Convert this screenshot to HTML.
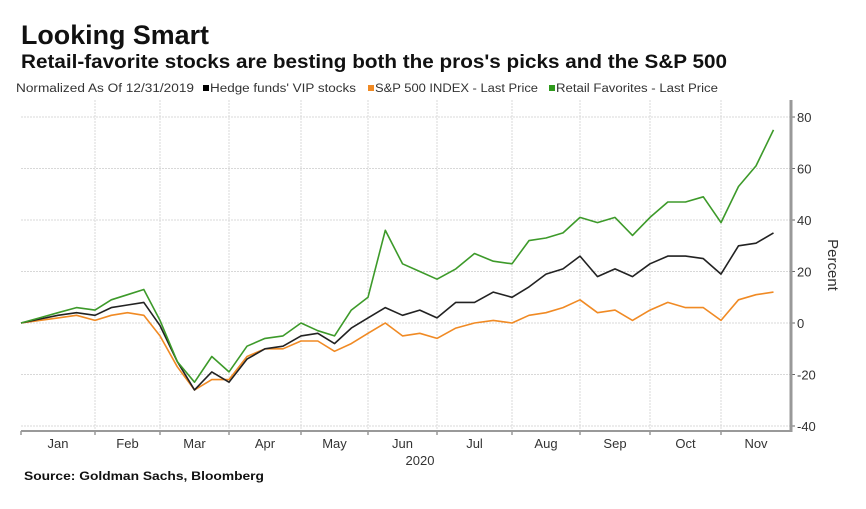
<!DOCTYPE html>
<html><head><meta charset="utf-8"><style>
body{margin:0;background:#fff;width:866px;height:504px;overflow:hidden;font-family:"Liberation Sans",sans-serif;}
svg text{font-family:"Liberation Sans",sans-serif;}
</style></head><body>
<svg width="866" height="504">
<text x="21" y="44" font-size="27" font-weight="bold" fill="#111" textLength="188" lengthAdjust="spacingAndGlyphs">Looking Smart</text>
<text x="21" y="68" font-size="19" font-weight="bold" fill="#111" textLength="706" lengthAdjust="spacingAndGlyphs">Retail-favorite stocks are besting both the pros's picks and the S&amp;P 500</text>
<g font-size="11.5" fill="#333">
<text x="16" y="92" textLength="178" lengthAdjust="spacingAndGlyphs">Normalized As Of 12/31/2019</text>
<rect x="203" y="85" width="6" height="6" fill="#000"/>
<text x="210" y="92" textLength="146" lengthAdjust="spacingAndGlyphs">Hedge funds' VIP stocks</text>
<rect x="368" y="85" width="6" height="6" fill="#f08a24"/>
<text x="375" y="92" textLength="163" lengthAdjust="spacingAndGlyphs">S&amp;P 500 INDEX - Last Price</text>
<rect x="549" y="85" width="6" height="6" fill="#2e9a1c"/>
<text x="556" y="92" textLength="162" lengthAdjust="spacingAndGlyphs">Retail Favorites - Last Price</text>
</g>
<g id="grid"></g>
<g id="axes"></g>
<g id="series"></g>
<text x="420" y="465" font-size="13" fill="#333" text-anchor="middle">2020</text>
<text transform="translate(828,265) rotate(90)" font-size="15" fill="#333" text-anchor="middle">Percent</text>
<text x="24" y="480" font-size="12" font-weight="bold" fill="#111" textLength="240" lengthAdjust="spacingAndGlyphs">Source: Goldman Sachs, Bloomberg</text>
</svg>
<script>
const months=["Jan","Feb","Mar","Apr","May","Jun","Jul","Aug","Sep","Oct","Nov"];
const yTicks=[80,60,40,20,0,-20,-40];
const dates=[0,0.25,0.5,0.75,1,1.25,1.5,1.75,2,2.25,2.5,2.75,3,3.25,3.5,3.75,4,4.25,4.5,4.75,5,5.25,5.5,5.75,6,6.25,6.5,6.75,7,7.25,7.5,7.75,8,8.25,8.5,8.75,9,9.25,9.5,9.75,10,10.25,10.5,10.75];
const retail=[0,2,4,6,5,9,11,13,1,-15,-23,-13,-19,-9,-6,-5,0,-3,-5,5,10,36,23,20,17,21,27,24,23,32,33,35,41,39,41,34,41,47,47,49,39,53,61,75];
const hedge=[0,1.5,3,4,3,6,7,8,-1,-15,-26,-19,-23,-14,-10,-9,-5,-4,-8,-2,2,6,3,5,2,8,8,12,10,14,19,21,26,18,21,18,23,26,26,25,19,30,31,35];
const sp500=[0,1,2,3,1,3,4,3,-5,-17,-26,-22,-22,-13,-10,-10,-7,-7,-11,-8,-4,0,-5,-4,-6,-2,0,1,0,3,4,6,9,4,5,1,5,8,6,6,1,9,11,12];
const NS='http://www.w3.org/2000/svg';
const monthPx=[21,95,160,229,301,368,437,512,580,650,721,791];
function xScale(t){const k=Math.min(Math.floor(t),10);return monthPx[k]+(t-k)*(monthPx[k+1]-monthPx[k]);}
function yScale(v){return 323-v*2.575;}
function mk(tag,attrs,parent){const e=document.createElementNS(NS,tag);for(const k in attrs)e.setAttribute(k,attrs[k]);parent.appendChild(e);return e;}
const grid=document.getElementById('grid'),axes=document.getElementById('axes'),ser=document.getElementById('series');
yTicks.forEach(v=>{
 const l=mk('line',{x1:21,x2:791,y1:yScale(v),y2:yScale(v),stroke:'#d8d8d8','stroke-dasharray':'2,1'},grid);
 
 
 const t=mk('text',{x:797,y:yScale(v)+5,'font-size':13,fill:'#333'},axes);
 
 
 t.textContent=v<0?'-'+Math.abs(v):String(v);
 const tk=mk('line',{x1:791,x2:795,y1:yScale(v),y2:yScale(v),stroke:'#666'},axes);
 
 
});
months.forEach((m,i)=>{
 if(i>0){const g=mk('line',{x1:xScale(i),x2:xScale(i),y1:100,y2:431,stroke:'#d8d8d8','stroke-dasharray':'2,1'},grid);
 
 }
 const tk=mk('line',{x1:xScale(i),x2:xScale(i),y1:431,y2:435,stroke:'#666'},axes);
 
 
 const t=mk('text',{x:(xScale(i)+xScale(i+1))/2,y:448,'font-size':13,fill:'#333','text-anchor':'middle'},axes);
 
 
 t.textContent=m;
});
const xa=mk('line',{x1:21,x2:791,y1:431,y2:431,stroke:'#999','stroke-width':2},axes);


const ya=mk('line',{x1:791,x2:791,y1:100,y2:432,stroke:'#999','stroke-width':3},axes);


function line(vals,color,name){
 const d=vals.map((v,i)=>(i?'L':'M')+xScale(dates[i]).toFixed(1)+','+yScale(v).toFixed(1)).join('');
 const p=mk('path',{d:d,fill:'none',stroke:color,'stroke-width':1.6,'stroke-linejoin':'round'},ser);
 
 
}
line(sp500,'#f08a24','sp500-line');
line(hedge,'#222','hedge-funds-line');
line(retail,'#3d9a2a','retail-favorites-line');
</script>
</body></html>
